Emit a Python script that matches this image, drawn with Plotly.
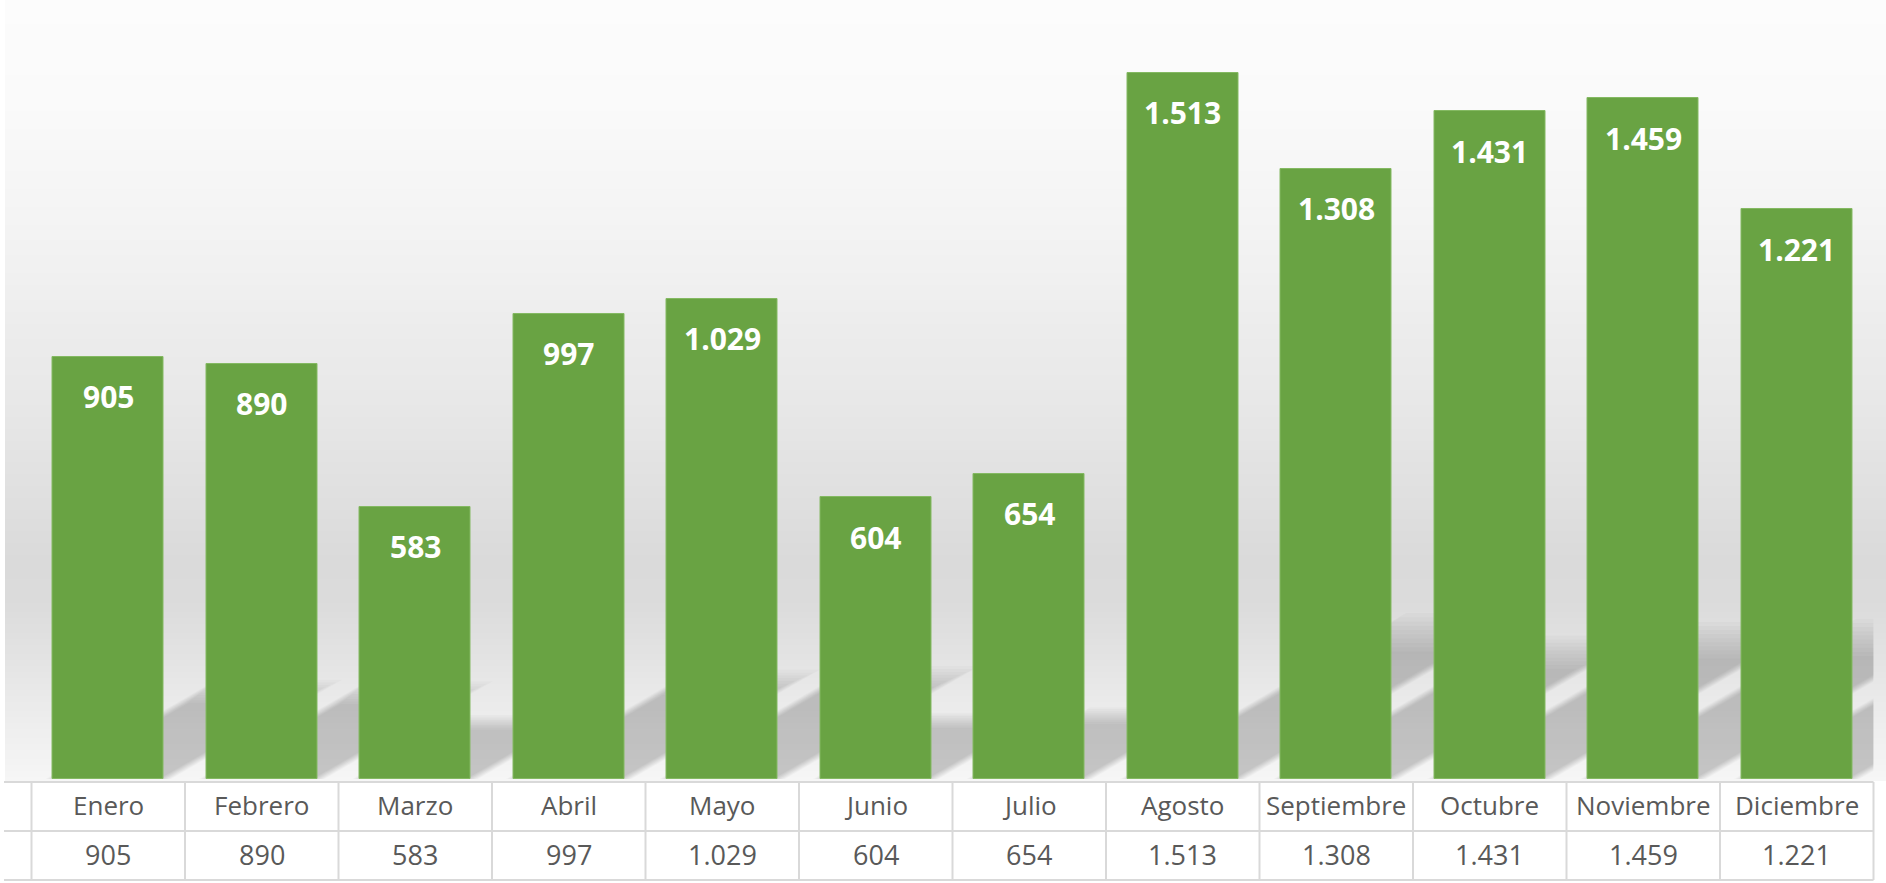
import plotly.graph_objects as go

# ---------------- data ----------------
months = ["Enero", "Febrero", "Marzo", "Abril", "Mayo", "Junio", "Julio",
          "Agosto", "Septiembre", "Octubre", "Noviembre", "Diciembre"]
values = [905, 890, 583, 997, 1029, 604, 654, 1513, 1308, 1431, 1459, 1221]


def fmt(v):
    return f"{v:,}".replace(",", ".")


# ---------------- geometry / style ----------------
W, H = 1886, 883
PLOT_L, PLOT_R = 31.5, 1873.5
BASE_Y = 779.0
PX_PER_UNIT = 0.4667
YMAX = BASE_Y / PX_PER_UNIT
BAR_W = 0.72
N = len(months)
PITCH = (PLOT_R - PLOT_L) / N

BAR_COLOR = "#69a343"
TEXT_GRAY = "#595959"
LINE_GRAY = "#d9d9d9"
FONT = "Open Sans, Noto Sans, sans-serif"


def px(xp):
    return xp / W


def py(yp):
    return 1 - yp / H


shapes = []

# background gradient (grey)
stops = [(0, 252), (100, 250), (200, 245), (280, 240), (330, 236), (400, 232),
         (480, 225), (560, 218), (600, 219), (650, 226), (700, 234), (740, 240),
         (782, 246)]


def grey_at(y):
    for (y0, g0), (y1, g1) in zip(stops[:-1], stops[1:]):
        if y0 <= y <= y1:
            t = (y - y0) / (y1 - y0)
            return g0 + (g1 - g0) * t
    return stops[-1][1]


step = 3
y = 0
while y < 782:
    g = int(round(grey_at(y + step / 2)))
    shapes.append(dict(type="rect", xref="paper", yref="paper",
                       x0=px(5), x1=1, y0=py(min(y + step + 0.5, 782)), y1=py(y),
                       fillcolor=f"rgb({g},{g},{g})", line=dict(width=0),
                       layer="below"))
    y += step

# perspective shadows behind bars (soft edges via stacked translucent layers)
K = 0.21
SKEW = 0.0011
NL = 10
for j in range(NL):
    t = j / (NL - 1)
    kf = 1.12 - 0.26 * t
    grow = 0.05 - 0.08 * t
    alpha = 0.018
    for i, v in enumerate(values):
        sh = SKEW * v
        h = K * v * kf
        xl = i - BAR_W / 2 - grow
        xr = i + BAR_W / 2 + grow
        path = (f"M {xl},0 L {xr},0 L {xr + sh * kf},{h} L {xl + sh * kf},{h} Z")
        shapes.append(dict(type="path", xref="x", yref="y", path=path,
                           fillcolor=f"rgba(0,0,0,{alpha})",
                           line=dict(width=0), layer="below"))

# table background
shapes.append(dict(type="rect", xref="paper", yref="paper", x0=0, x1=1,
                   y0=0, y1=py(781), fillcolor="white", line=dict(width=0),
                   layer="below"))
shapes.append(dict(type="rect", xref="paper", yref="paper", x0=0, x1=px(5),
                   y0=0, y1=1, fillcolor="white", line=dict(width=0),
                   layer="below"))

# table lines
for yl in [782, 831, 880]:
    shapes.append(dict(type="line", xref="paper", yref="paper",
                       x0=px(4), x1=px(PLOT_L + PITCH * N), y0=py(yl), y1=py(yl),
                       line=dict(color=LINE_GRAY, width=2), layer="above"))
for k in range(N + 1):
    xv = PLOT_L + PITCH * k
    shapes.append(dict(type="line", xref="paper", yref="paper",
                       x0=px(xv), x1=px(xv), y0=py(782), y1=py(880),
                       line=dict(color=LINE_GRAY, width=2), layer="above"))

# ---------------- figure ----------------
fig = go.Figure()
fig.add_trace(go.Bar(
    x=list(range(N)), y=values, width=BAR_W,
    marker=dict(color=BAR_COLOR, line=dict(color="#84b962", width=1)),
    hoverinfo="skip", showlegend=False,
))

annotations = []
for i, v in enumerate(values):
    annotations.append(dict(x=i, y=v, xref="x", yref="y", text=fmt(v),
                            showarrow=False, yanchor="middle", yshift=-40,
                            font=dict(family=FONT, size=30, color="white",
                                      weight="bold")))
    annotations.append(dict(x=i, y=py(805), xref="x", yref="paper",
                            text=months[i], showarrow=False, yanchor="middle",
                            font=dict(family=FONT, size=26, color=TEXT_GRAY)))
    annotations.append(dict(x=i, y=py(854), xref="x", yref="paper",
                            text=fmt(v), showarrow=False, yanchor="middle",
                            font=dict(family=FONT, size=27, color=TEXT_GRAY)))

fig.update_layout(
    width=W, height=H,
    margin=dict(l=0, r=0, t=0, b=0),
    paper_bgcolor="white", plot_bgcolor="rgba(0,0,0,0)",
    xaxis=dict(domain=[px(PLOT_L), px(PLOT_R)], range=[-0.5, N - 0.5],
               showgrid=False, zeroline=False, showticklabels=False,
               showline=False, fixedrange=True),
    yaxis=dict(domain=[py(BASE_Y), 1], range=[0, YMAX], showgrid=False,
               zeroline=False, showticklabels=False, showline=False,
               fixedrange=True),
    shapes=shapes, annotations=annotations,
    bargap=0,
)

fig.write_html("out.html", config={"displayModeBar": False},
               post_script="document.body.style.margin='0';")
